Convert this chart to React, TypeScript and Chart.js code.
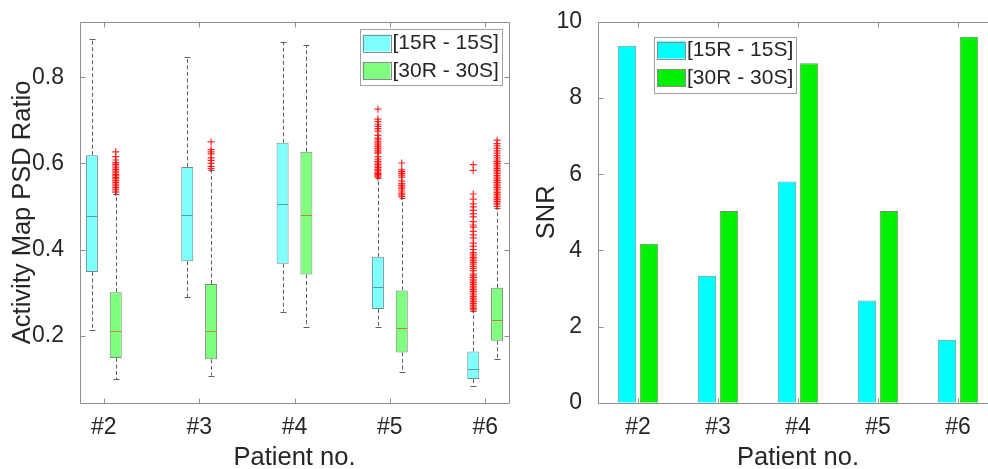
import React, { useEffect, useRef } from 'react';
import { Chart, registerables } from 'chart.js';

Chart.register(...registerables);

// ---------- data ----------
const patients = ['#2', '#3', '#4', '#5', '#6'];
const patientNums = [2, 3, 4, 5, 6];
const seriesNames = ['[15R - 15S]', '[30R - 30S]'];

// Left panel: box plot statistics (Activity Map PSD Ratio)
const box15Q1 = [0.348, 0.373, 0.367, 0.262, 0.099];
const box15Median = [0.478, 0.48, 0.506, 0.313, 0.122];
const box15Q3 = [0.619, 0.592, 0.648, 0.383, 0.163];
const box15WhiskerLow = [0.212, 0.289, 0.256, 0.221, 0.084];
const box15WhiskerHigh = [0.89, 0.848, 0.883, 0.566, 0.257];

const box30Q1 = [0.148, 0.145, 0.342, 0.161, 0.188];
const box30Median = [0.211, 0.211, 0.481, 0.218, 0.236];
const box30Q3 = [0.301, 0.32, 0.627, 0.305, 0.311];
const box30WhiskerLow = [0.099, 0.107, 0.221, 0.116, 0.146];
const box30WhiskerHigh = [0.53, 0.585, 0.875, 0.519, 0.497];

// outliers per patient
const out15P5 = [0.726, 0.703, 0.697, 0.691, 0.686, 0.681, 0.675, 0.665, 0.659, 0.655, 0.651, 0.647, 0.643, 0.639, 0.635, 0.631, 0.627, 0.624, 0.616, 0.61, 0.605, 0.601, 0.598, 0.594, 0.591, 0.587, 0.584, 0.58, 0.577, 0.574, 0.571, 0.568];
const out15P6 = [0.597, 0.584, 0.529, 0.517, 0.506, 0.499, 0.491, 0.483, 0.476, 0.465, 0.457, 0.452, 0.442, 0.434, 0.427, 0.415, 0.408, 0.4, 0.393, 0.389, 0.385, 0.381, 0.378, 0.374, 0.37, 0.366, 0.361, 0.356, 0.351, 0.343, 0.339, 0.335, 0.331, 0.327, 0.323, 0.319, 0.315, 0.311, 0.307, 0.303, 0.299, 0.295, 0.291, 0.287, 0.283, 0.279, 0.275, 0.271, 0.267, 0.263, 0.26];
const out30P2 = [0.627, 0.616, 0.608, 0.602, 0.598, 0.594, 0.59, 0.586, 0.582, 0.578, 0.574, 0.571, 0.567, 0.564, 0.56, 0.556, 0.552, 0.548, 0.544, 0.54, 0.536, 0.533];
const out30P3 = [0.65, 0.632, 0.627, 0.622, 0.613, 0.607, 0.6, 0.593, 0.588];
const out30P5 = [0.601, 0.585, 0.581, 0.577, 0.573, 0.568, 0.559, 0.553, 0.549, 0.545, 0.541, 0.536, 0.531, 0.527, 0.523];
const out30P6 = [0.654, 0.646, 0.641, 0.635, 0.629, 0.624, 0.618, 0.613, 0.608, 0.604, 0.6, 0.596, 0.592, 0.588, 0.584, 0.58, 0.576, 0.572, 0.568, 0.564, 0.56, 0.556, 0.552, 0.548, 0.544, 0.54, 0.536, 0.532, 0.528, 0.524, 0.52, 0.516, 0.512, 0.508, 0.504, 0.5];
const outliers15: number[][] = [[], [], [], out15P5, out15P6];
const outliers30: number[][] = [out30P2, out30P3, [], out30P5, out30P6];

const leftYTicks = [0.2, 0.4, 0.6, 0.8];

// Right panel: SNR
const snr15 = [9.37, 3.33, 5.81, 2.68, 1.655];
const snr30 = [4.17, 5.03, 8.91, 5.03, 9.61];
const rightYTicks = [0, 2, 4, 6, 8, 10];

// ---------- styles ----------
const FONT = "'Liberation Sans', Arial, Helvetica, sans-serif";
const TEXT = '#262626';
const AXIS = '#8f8f8f';
const BOX_OFFSET = 0.125;
const CYAN_LIGHT = '#80ffff';
const GREEN_LIGHT = '#80ff80';
const CYAN = '#00ffff';
const GREEN = '#00f000';
const TICK_FONT = { family: FONT, size: 23 };
const TITLE_FONT = { family: FONT, size: 25.5, lineHeight: 1 };

type LegendSpec = { anchor: 'right' | 'left'; dx: number; dy: number; colors: string[] };

function drawFrame(chart: any, xTickVals: number[], yTickVals: number[]) {
  const { ctx, chartArea: a, scales } = chart;
  const x = scales.x;
  const y = scales.y;
  ctx.save();
  ctx.strokeStyle = AXIS;
  ctx.lineWidth = 1;
  const L = Math.round(a.left) + 0.5;
  const R = Math.round(a.right) + 0.5;
  const T = Math.round(a.top) + 0.5;
  const B = Math.round(a.bottom) + 0.5;
  ctx.beginPath();
  ctx.moveTo(L, T); ctx.lineTo(R, T); ctx.lineTo(R, B); ctx.lineTo(L, B); ctx.closePath();
  ctx.stroke();
  const tl = 5;
  ctx.beginPath();
  xTickVals.forEach((v, i) => {
    const px = Math.round(x.getPixelForValue(v, i)) + 0.5;
    ctx.moveTo(px, B); ctx.lineTo(px, B - tl);
    ctx.moveTo(px, T); ctx.lineTo(px, T + tl);
  });
  yTickVals.forEach((v) => {
    const py = Math.round(y.getPixelForValue(v)) + 0.5;
    ctx.moveTo(L, py); ctx.lineTo(L + tl, py);
    ctx.moveTo(R, py); ctx.lineTo(R - tl, py);
  });
  ctx.stroke();
  ctx.restore();
}

function drawLegend(chart: any, spec: LegendSpec) {
  const { ctx, chartArea: a } = chart;
  const w = 141.5;
  const h = 55.5;
  const x0 = spec.anchor === 'right' ? a.right - spec.dx - w : a.left + spec.dx;
  const y0 = a.top + spec.dy;
  ctx.save();
  ctx.fillStyle = '#ffffff';
  ctx.fillRect(x0, y0, w, h);
  ctx.strokeStyle = '#a0a0a0';
  ctx.lineWidth = 1;
  ctx.strokeRect(Math.round(x0) + 0.5, Math.round(y0) + 0.5, Math.round(w), Math.round(h));
  ctx.font = `21px ${FONT}`;
  ctx.textBaseline = 'middle';
  ctx.textAlign = 'left';
  seriesNames.forEach((name, i) => {
    const sy = y0 + 5 + i * 27.5;
    ctx.fillStyle = spec.colors[i];
    ctx.fillRect(x0 + 3, sy, 28, 17);
    ctx.strokeStyle = '#8a8a8a';
    ctx.strokeRect(Math.round(x0 + 3) + 0.5, Math.round(sy) + 0.5, 28, 17);
    ctx.fillStyle = TEXT;
    ctx.fillText(name, x0 + 33, sy + 9);
  });
  ctx.restore();
}

function leftConfig(): any {
  const groups = [
    { off: -BOX_OFFSET, q1: box15Q1, q3: box15Q3, med: box15Median, lo: box15WhiskerLow, hi: box15WhiskerHigh, medColor: '#5a9c9c' },
    { off: BOX_OFFSET, q1: box30Q1, q3: box30Q3, med: box30Median, lo: box30WhiskerLow, hi: box30WhiskerHigh, medColor: '#b08a38' },
  ];
  const outlierPoints: { x: number; y: number }[] = [];
  patientNums.forEach((p, i) => {
    outliers15[i].forEach((v) => outlierPoints.push({ x: p - BOX_OFFSET, y: v }));
    outliers30[i].forEach((v) => outlierPoints.push({ x: p + BOX_OFFSET, y: v }));
  });

  const boxPlugin = {
    id: 'boxDecor',
    beforeDatasetsDraw(chart: any) {
      const { ctx, scales: { x, y } } = chart;
      ctx.save();
      ctx.strokeStyle = '#5e5e5e';
      ctx.lineWidth = 1;
      groups.forEach((g) => {
        patientNums.forEach((p, i) => {
          const px = Math.round(x.getPixelForValue(p + g.off)) + 0.5;
          ctx.setLineDash([4, 2.5]);
          ctx.beginPath();
          ctx.moveTo(px, y.getPixelForValue(g.q3[i]));
          ctx.lineTo(px, y.getPixelForValue(g.hi[i]));
          ctx.moveTo(px, y.getPixelForValue(g.q1[i]));
          ctx.lineTo(px, y.getPixelForValue(g.lo[i]));
          ctx.stroke();
          ctx.setLineDash([]);
          ctx.beginPath();
          const yh = Math.round(y.getPixelForValue(g.hi[i])) + 0.5;
          const yl = Math.round(y.getPixelForValue(g.lo[i])) + 0.5;
          ctx.moveTo(px - 3, yh); ctx.lineTo(px + 3, yh);
          ctx.moveTo(px - 3, yl); ctx.lineTo(px + 3, yl);
          ctx.stroke();
        });
      });
      ctx.restore();
    },
    afterDatasetsDraw(chart: any) {
      const { ctx, scales: { x, y } } = chart;
      ctx.save();
      ctx.lineWidth = 1;
      groups.forEach((g) => {
        ctx.strokeStyle = g.medColor;
        patientNums.forEach((p, i) => {
          const px = x.getPixelForValue(p + g.off);
          const py = Math.round(y.getPixelForValue(g.med[i])) + 0.5;
          ctx.beginPath();
          ctx.moveTo(px - 5.5, py);
          ctx.lineTo(px + 5.5, py);
          ctx.stroke();
        });
      });
      ctx.restore();
    },
    afterDraw(chart: any) {
      drawFrame(chart, patientNums, leftYTicks);
      drawLegend(chart, { anchor: 'right', dx: 8, dy: 7.7, colors: [CYAN_LIGHT, GREEN_LIGHT] });
    },
  };

  return {
    type: 'bar',
    data: {
      datasets: [
        {
          type: 'bar',
          label: seriesNames[0],
          data: patientNums.map((p, i) => ({ x: p - BOX_OFFSET, y: [box15Q1[i], box15Q3[i]] })),
          backgroundColor: CYAN_LIGHT,
          borderColor: '#6f8f8f',
          borderWidth: 1,
          borderSkipped: false,
          grouped: false,
          maxBarThickness: 12,
        },
        {
          type: 'bar',
          label: seriesNames[1],
          data: patientNums.map((p, i) => ({ x: p + BOX_OFFSET, y: [box30Q1[i], box30Q3[i]] })),
          backgroundColor: GREEN_LIGHT,
          borderColor: '#6f8f6f',
          borderWidth: 1,
          borderSkipped: false,
          grouped: false,
          maxBarThickness: 12,
        },
        {
          type: 'scatter',
          label: 'outliers',
          data: outlierPoints,
          pointStyle: 'cross',
          radius: 3.5,
          borderColor: 'rgba(255,0,0,0.85)',
          borderWidth: 1.2,
          showLine: false,
        },
      ],
    },
    options: {
      responsive: false,
      animation: false,
      layout: { padding: { left: 0, top: 14, right: 11, bottom: 0 } },
      plugins: { legend: { display: false }, tooltip: { enabled: false } },
      scales: {
        x: {
          type: 'linear',
          offset: false,
          min: 1.75,
          max: 6.25,
          grid: { display: false, offset: false },
          border: { display: false },
          afterBuildTicks: (s: any) => { s.ticks = patientNums.map((v) => ({ value: v })); },
          afterFit: (s: any) => { s.height = 66; },
          ticks: {
            color: TEXT,
            font: TICK_FONT,
            padding: 3,
            maxRotation: 0,
            autoSkip: false,
            callback: (v: any) => patients[patientNums.indexOf(Number(v))] ?? '',
          },
          title: { display: true, text: 'Patient no.', color: TEXT, font: TITLE_FONT, padding: { top: 0, bottom: -2 } },
        },
        y: {
          type: 'linear',
          min: 0.0435,
          max: 0.929,
          grid: { display: false },
          border: { display: false },
          afterBuildTicks: (s: any) => { s.ticks = leftYTicks.map((v) => ({ value: v })); },
          afterFit: (s: any) => { s.width = 80; },
          ticks: { color: TEXT, font: TICK_FONT, padding: 8, callback: (v: any) => Number(v).toFixed(1) },
          title: { display: true, text: 'Activity Map PSD Ratio', color: TEXT, font: TITLE_FONT, padding: { top: 10.5, bottom: 0 } },
        },
      },
    },
    plugins: [boxPlugin],
  };
}

function rightConfig(): any {
  const framePlugin = {
    id: 'snrFrame',
    afterDraw(chart: any) {
      drawFrame(chart, patientNums.map((_, i) => i), rightYTicks);
      drawLegend(chart, { anchor: 'left', dx: 56, dy: 14.7, colors: [CYAN, GREEN] });
    },
  };
  return {
    type: 'bar',
    data: {
      labels: patients,
      datasets: [
        { label: seriesNames[0], data: snr15, backgroundColor: CYAN, borderColor: '#7f8f8f', borderWidth: 1, categoryPercentage: 0.55, barPercentage: 0.84 },
        { label: seriesNames[1], data: snr30, backgroundColor: GREEN, borderColor: '#6f8f6f', borderWidth: 1, categoryPercentage: 0.55, barPercentage: 0.84 },
      ],
    },
    options: {
      responsive: false,
      animation: false,
      layout: { padding: { left: 0, top: 14, right: 12, bottom: 0 } },
      plugins: { legend: { display: false }, tooltip: { enabled: false } },
      scales: {
        x: {
          type: 'category',
          offset: true,
          grid: { display: false },
          border: { display: false },
          afterFit: (s: any) => { s.height = 66.3; },
          ticks: { color: TEXT, font: TICK_FONT, padding: 3, maxRotation: 0, autoSkip: false },
          title: { display: true, text: 'Patient no.', color: TEXT, font: TITLE_FONT, padding: { top: 0, bottom: -2 } },
        },
        y: {
          type: 'linear',
          min: 0,
          max: 10,
          grid: { display: false },
          border: { display: false },
          afterBuildTicks: (s: any) => { s.ticks = rightYTicks.map((v) => ({ value: v })); },
          afterFit: (s: any) => { s.width = 78; },
          ticks: { color: TEXT, font: TICK_FONT, padding: 8 },
          title: { display: true, text: 'SNR', color: TEXT, font: TITLE_FONT, padding: { top: 14.5, bottom: 0 } },
        },
      },
    },
    plugins: [framePlugin],
  };
}

export default function App() {
  const leftRef = useRef<HTMLCanvasElement>(null);
  const rightRef = useRef<HTMLCanvasElement>(null);
  useEffect(() => {
    const c1 = new Chart(leftRef.current as HTMLCanvasElement, leftConfig());
    const c2 = new Chart(rightRef.current as HTMLCanvasElement, rightConfig());
    return () => {
      c1.destroy();
      c2.destroy();
    };
  }, []);
  return (
    <div style={{ position: 'fixed', left: 0, top: 0, width: 988, height: 469, overflow: 'hidden', background: '#ffffff' }}>
      <canvas ref={leftRef} width={520} height={469} style={{ position: 'absolute', left: 0, top: 0, width: 520, height: 469 }} />
      <canvas ref={rightRef} width={490} height={469} style={{ position: 'absolute', left: 520, top: 0, width: 490, height: 469 }} />
    </div>
  );
}
